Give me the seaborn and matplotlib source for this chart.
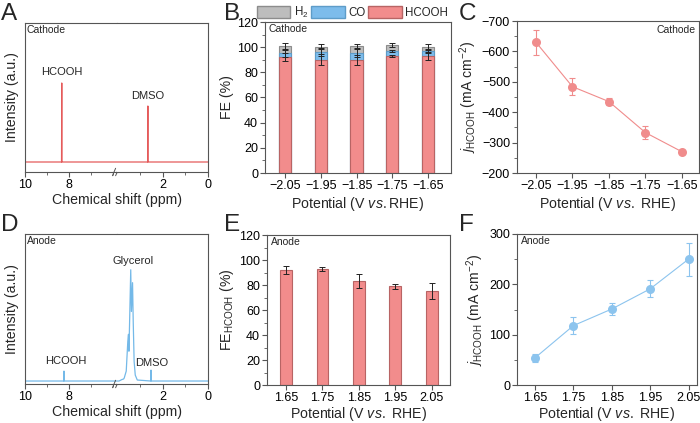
import numpy as np
import pandas as pd
import matplotlib
matplotlib.use("Agg")
import matplotlib.pyplot as plt
import seaborn as sns
from matplotlib.patches import Patch
from matplotlib.ticker import MultipleLocator, FixedLocator, NullLocator

# ---- data ----
# NMR spectra (ppm, intensity in arbitrary units, baseline = 0)
nmr_cat_ppm = [10.0, 8.34, 8.335, 8.33, 8.325, 5.9, np.nan, 3.95, 2.68, 2.675, 2.67, 2.665, 0.0]
nmr_cat_int = [0, 0, 40, 79, 0, 0, np.nan, 0, 0, 30, 56, 0, 0]

nmr_an_ppm = [10.0, 8.24, 8.235, 8.23, 8.225, 5.9, np.nan, 3.95, 3.82, 3.75, 3.72, 3.63, 3.56,
              3.53, 3.51, 3.48, 3.43, 3.40, 3.35, 3.32, 3.28, 3.23, 3.14, 2.54, 2.535, 2.53,
              2.525, 0.0]
nmr_an_int = [0, 0, 5, 10, 0, 0, np.nan, 0, 1.5, 2, 3, 10, 40,
              47, 30, 60, 112, 70, 99, 60, 20, 6, 1, 0, 5, 11,
              0, 0]

# cathode FE (stacked bars)
cath_labels = ["\u22122.05", "\u22121.95", "\u22121.85", "\u22121.75", "\u22121.65"]
fe_hcooh = [92, 90, 90, 93, 93]
fe_co = [3, 6, 5.5, 4, 4]
fe_h2 = [6, 4.5, 5.5, 5, 3]
err_hcooh = [3, 4.5, 4, 1, 3.5]
err_co = [2.5, 3, 3, 1, 1.5]
err_h2 = [2.5, 2, 1.5, 1.5, 2.5]

# cathode partial current density
cath_v = [-2.05, -1.95, -1.85, -1.75, -1.65]
j_cath = [-630, -484, -435, -333, -270]
j_cath_err = [41, 27, 12, 20, 6]

# anode FE
an_labels = ["1.65", "1.75", "1.85", "1.95", "2.05"]
fe_an = [92, 93, 83, 79, 75.5]
fe_an_err = [3, 1.5, 5.5, 2, 6.5]

# anode partial current density
an_v = [1.65, 1.75, 1.85, 1.95, 2.05]
j_an = [54, 118, 151, 191, 250]
j_an_err = [8, 17, 11, 17, 33]

# ---- style ----
sns.set_theme(style="ticks")
plt.rcParams["font.family"] = ["Liberation Sans", "DejaVu Sans"]
plt.rcParams["mathtext.fontset"] = "custom"
plt.rcParams["mathtext.rm"] = "Liberation Sans"
plt.rcParams["mathtext.it"] = "Liberation Sans:italic"
plt.rcParams["axes.edgecolor"] = "#555555"
plt.rcParams["axes.linewidth"] = 0.8

red_line = "#E55B5B"
blue_line = "#74B9E8"
red_bar = "#F28C8C"
blue_bar = "#7DBCEB"
gray_bar = "#BDBDBD"
red_pt = "#F08C8C"
blue_pt = "#8CC4EE"

W, H = 700, 423
fig = plt.figure(figsize=(7, 4.23), dpi=100)


def box(x0, y0, x1, y1):
    return [x0 / W, 1 - y1 / H, (x1 - x0) / W, (y1 - y0) / H]


def style(ax):
    ax.tick_params(which="major", direction="out", length=3.5, width=0.8,
                   labelsize=9, pad=1.5, colors="#555555", labelcolor="black")
    ax.tick_params(which="minor", direction="out", length=2, width=0.6, colors="#555555")


xlab_pot = r"Potential (V $\mathit{vs.}$ RHE)"
lab_fs = 10.2


def spectrum(y0, y1, ppm, inten, color, ylim, tag):
    a1 = fig.add_axes(box(25, y0, 117, y1))
    a2 = fig.add_axes(box(117, y0, 208, y1), sharey=a1)
    for a in (a1, a2):
        sns.lineplot(x=ppm, y=inten, ax=a, color=color, linewidth=0.9, sort=False,
                     estimator=None)
        a.set_ylim(*ylim)
        a.yaxis.set_major_locator(NullLocator())
        a.set_ylabel("")
        style(a)
        a.tick_params(axis="y", left=False, labelleft=False)
    a1.set_xlim(10, 5.82)
    a2.set_xlim(4.04, 0)
    a1.xaxis.set_major_locator(FixedLocator([10, 8]))
    a1.xaxis.set_minor_locator(FixedLocator([9, 7, 6]))
    a2.xaxis.set_major_locator(FixedLocator([2, 0]))
    a2.xaxis.set_minor_locator(FixedLocator([3, 1]))
    a1.spines["right"].set_visible(False)
    a2.spines["left"].set_visible(False)
    a1.set_ylabel("Intensity (a.u.)", fontsize=lab_fs, labelpad=4)
    fig.text(116.5 / W, 1 - (y1 + 21) / H, "Chemical shift (ppm)", ha="center",
             va="top", fontsize=lab_fs)
    # break marks on the bottom axis
    for dx in (-0.035, 0.0):
        a1.plot([0.985 + dx, 1.02 + dx], [-0.025, 0.025], transform=a1.transAxes,
                color="#555555", lw=0.7, clip_on=False)
    a1.text(0.02, 0.985, tag, transform=a1.transAxes, ha="left", va="top", fontsize=7.5)
    return a1, a2


# ---- A: cathode NMR ----
aA1, aA2 = spectrum(23, 172, nmr_cat_ppm, nmr_cat_int, red_line, (-10, 139), "Cathode")
aA1.text(8.33, 85, "HCOOH", ha="center", va="bottom", fontsize=8)
aA2.text(2.67, 61, "DMSO", ha="center", va="bottom", fontsize=8)

# ---- D: anode NMR ----
aD1, aD2 = spectrum(234, 384, nmr_an_ppm, nmr_an_int, blue_line, (-3, 148), "Anode")
aD2.text(3.31, 116, "Glycerol", ha="center", va="bottom", fontsize=8)
aD1.text(8.14, 15, "HCOOH", ha="center", va="bottom", fontsize=8)
aD2.text(2.49, 13, "DMSO", ha="center", va="bottom", fontsize=8)

# ---- B: cathode FE stacked ----
axB = fig.add_axes(box(265, 22, 451, 173))
df_b = pd.DataFrame({"pot": cath_labels, "hcooh": fe_hcooh, "co": fe_co, "h2": fe_h2})
df_b["co_top"] = df_b["hcooh"] + df_b["co"]
df_b["total"] = df_b["co_top"] + df_b["h2"]
sns.barplot(data=df_b, x="pot", y="total", color=gray_bar, saturation=1, width=0.34,
            edgecolor="#8C8C8C", linewidth=0.8, errorbar=None, ax=axB)
sns.barplot(data=df_b, x="pot", y="co_top", color=blue_bar, saturation=1, width=0.34,
            edgecolor="#5E9CC8", linewidth=0.8, errorbar=None, ax=axB)
sns.barplot(data=df_b, x="pot", y="hcooh", color=red_bar, saturation=1, width=0.34,
            edgecolor="#B86464", linewidth=0.8, errorbar=None, ax=axB)
xb = np.arange(len(cath_labels))
for col, err in (("total", err_h2), ("co_top", err_co), ("hcooh", err_hcooh)):
    axB.errorbar(xb, df_b[col], yerr=err, fmt="none", ecolor="#222222", elinewidth=0.7,
                 capsize=2, capthick=0.7)
axB.set_xlim(-0.56, 4.64)
axB.set_ylim(0, 120)
axB.yaxis.set_major_locator(MultipleLocator(20))
axB.yaxis.set_minor_locator(MultipleLocator(10))
style(axB)
axB.set_xlabel(r"Potential (V $\mathit{vs.}$RHE)", fontsize=lab_fs, labelpad=2)
axB.set_ylabel("FE (%)", fontsize=lab_fs, labelpad=2)
axB.text(0.02, 0.985, "Cathode", transform=axB.transAxes, ha="left", va="top", fontsize=7.5)
handles = [Patch(facecolor=gray_bar, edgecolor="#8C8C8C", label="H$_2$"),
           Patch(facecolor=blue_bar, edgecolor="#5E9CC8", label="CO"),
           Patch(facecolor=red_bar, edgecolor="#B86464", label="HCOOH")]
axB.legend(handles=handles, loc="lower center", bbox_to_anchor=(0.47, 1.005), ncol=3,
           frameon=False, fontsize=8.3, handlelength=2.9, handleheight=1.15,
           handletextpad=0.3, columnspacing=0.25, borderaxespad=0, borderpad=0.1)

# ---- C: cathode j ----
axC = fig.add_axes(box(517, 21, 699, 173))
sns.lineplot(x=cath_v, y=j_cath, ax=axC, color=red_pt, linewidth=0.8, marker="o",
             markersize=6.5, markeredgewidth=0)
axC.errorbar(cath_v, j_cath, yerr=j_cath_err, fmt="none", ecolor=red_pt, elinewidth=0.8,
             capsize=2, capthick=0.8)
axC.set_xlim(-2.102, -1.603)
axC.set_ylim(-200, -700)
axC.set_xticks(cath_v)
axC.set_xticklabels(cath_labels)
axC.yaxis.set_major_locator(MultipleLocator(100))
axC.yaxis.set_minor_locator(MultipleLocator(50))
style(axC)
axC.set_xlabel(xlab_pot, fontsize=lab_fs, labelpad=2)
axC.set_ylabel(r"$j_{\mathrm{HCOOH}}$ (mA cm$^{-2}$)", fontsize=lab_fs, labelpad=2)
axC.text(0.98, 0.975, "Cathode", transform=axC.transAxes, ha="right", va="top", fontsize=7.5)

# ---- E: anode FE ----
axE = fig.add_axes(box(267, 235, 450, 385))
df_e = pd.DataFrame({"pot": an_labels, "fe": fe_an})
sns.barplot(data=df_e, x="pot", y="fe", color=red_bar, saturation=1, width=0.32,
            edgecolor="#B86464", linewidth=0.8, errorbar=None, ax=axE)
axE.errorbar(np.arange(len(an_labels)), df_e["fe"], yerr=fe_an_err, fmt="none",
             ecolor="#222222", elinewidth=0.7, capsize=2, capthick=0.7)
axE.set_xlim(-0.52, 4.5)
axE.set_ylim(0, 120)
axE.yaxis.set_major_locator(MultipleLocator(20))
axE.yaxis.set_minor_locator(MultipleLocator(10))
style(axE)
axE.set_xlabel(xlab_pot, fontsize=lab_fs, labelpad=0.5)
axE.set_ylabel(r"FE$_{\mathrm{HCOOH}}$ (%)", fontsize=lab_fs, labelpad=2)
axE.text(0.02, 0.985, "Anode", transform=axE.transAxes, ha="left", va="top", fontsize=7.5)

# ---- F: anode j ----
axF = fig.add_axes(box(517, 234, 697, 385))
sns.lineplot(x=an_v, y=j_an, ax=axF, color=blue_pt, linewidth=0.8, marker="o",
             markersize=6.5, markeredgewidth=0)
axF.errorbar(an_v, j_an, yerr=j_an_err, fmt="none", ecolor=blue_pt, elinewidth=0.8,
             capsize=2, capthick=0.8)
axF.set_xlim(1.603, 2.072)
axF.set_ylim(0, 300)
axF.set_xticks(an_v)
axF.set_xticklabels(an_labels)
axF.yaxis.set_major_locator(MultipleLocator(100))
axF.yaxis.set_minor_locator(MultipleLocator(50))
style(axF)
axF.set_xlabel(xlab_pot, fontsize=lab_fs, labelpad=0.5)
axF.set_ylabel(r"$j_{\mathrm{HCOOH}}$ (mA cm$^{-2}$)", fontsize=lab_fs, labelpad=2)
axF.text(0.02, 0.985, "Anode", transform=axF.transAxes, ha="left", va="top", fontsize=7.5)

# ---- panel letters ----
for lx, ly, letter in ((1, 3, "A"), (224, 3, "B"), (459, 3, "C"),
                       (1, 214, "D"), (224, 214, "E"), (459, 214, "F")):
    fig.text(lx / W, 1 - ly / H, letter, ha="left", va="top", fontsize=17.5)

fig.savefig("out.png", dpi=100)
